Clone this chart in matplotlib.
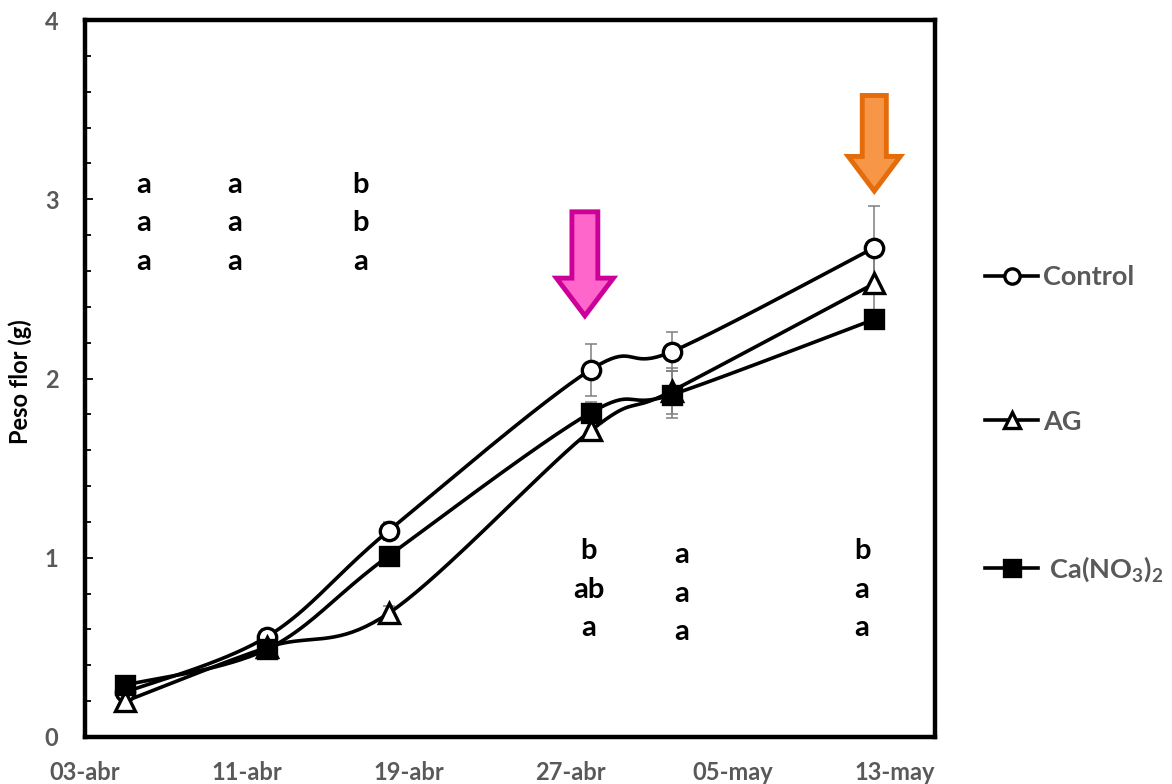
import numpy as np
import pandas as pd
import matplotlib
matplotlib.use('Agg')
import matplotlib.pyplot as plt
import matplotlib.dates as mdates
from matplotlib.lines import Line2D
from matplotlib.ticker import FixedLocator, MultipleLocator, FuncFormatter

plt.rcParams['font.family'] = ['Lato', 'DejaVu Sans']
plt.rcParams['font.weight'] = 'bold'
plt.rcParams['mathtext.fontset'] = 'custom'
plt.rcParams['mathtext.rm'] = 'Lato:bold'
plt.rcParams['mathtext.default'] = 'rm'

# datos
fechas = pd.to_datetime(['2019-04-05', '2019-04-12', '2019-04-18',
                         '2019-04-28', '2019-05-02', '2019-05-12'])
control = [0.25, 0.56, 1.15, 2.05, 2.15, 2.73]
ag = [0.20, 0.50, 0.69, 1.71, 1.93, 2.53]
calcio = [0.29, 0.49, 1.01, 1.81, 1.91, 2.33]
err_control = [0.03, 0.04, 0.05, 0.145, 0.11, 0.23]
err_ag = [0.02, 0.03, 0.04, 0.06, 0.13, 0.16]
err_calcio = [0.02, 0.03, 0.04, 0.06, 0.13, 0.05]

etiquetas = ['Control', 'AG', ' Ca(NO$_3$)$_2$']
marcadores = ['o', '^', 's']
rellenos = ['white', 'white', 'black']

# letras de significancia (arriba y abajo)
letras_arriba = [['a', 'a', 'a'], ['a', 'a', 'a'], ['b', 'b', 'a']]
letras_abajo = [['b', 'ab', 'a'], ['a', 'a', 'a'], ['b', 'a', 'a']]
pos_letras_arriba = [2.9, 7.4, 13.6]     # dias desde 03-abr
pos_letras_abajo = [24.9, 29.5, 38.4]

meses = {4: 'abr', 5: 'may'}


def suavizar(x, y, n=40):
    # curva tipo Excel (bezier con tangentes catmull-rom)
    x = np.asarray(x, float)
    y = np.asarray(y, float)
    px = np.concatenate([[x[0]], x, [x[-1]]])
    py = np.concatenate([[y[0]], y, [y[-1]]])
    xs, ys = [], []
    t = np.linspace(0, 1, n)
    for i in range(1, len(px) - 2):
        p0 = np.array([px[i], py[i]])
        p3 = np.array([px[i + 1], py[i + 1]])
        p1 = p0 + (np.array([px[i + 1], py[i + 1]]) - np.array([px[i - 1], py[i - 1]])) / 6
        p2 = p3 - (np.array([px[i + 2], py[i + 2]]) - np.array([px[i], py[i]])) / 6
        b = ((1 - t) ** 3)[:, None] * p0 + (3 * (1 - t) ** 2 * t)[:, None] * p1 \
            + (3 * (1 - t) * t ** 2)[:, None] * p2 + (t ** 3)[:, None] * p3
        xs.extend(b[:, 0])
        ys.extend(b[:, 1])
    return xs, ys


fig = plt.figure(figsize=(11.72, 7.84), dpi=100)
ax = fig.add_axes([85 / 1172, 47 / 784, 850 / 1172, 717 / 784])

xnum = mdates.date2num(fechas)
inicio = mdates.date2num(pd.Timestamp('2019-04-03'))

series = [control, ag, calcio]
errores = [err_control, err_ag, err_calcio]
for serie, err in zip(series, errores):
    ax.errorbar(xnum, serie, yerr=err, fmt='none', ecolor='#7f7f7f',
                elinewidth=1.1, capsize=4.6, capthick=1.1, zorder=2)

for serie in series:
    sx, sy = suavizar(xnum, serie)
    ax.plot(sx, sy, color='black', lw=2.6, zorder=3, solid_capstyle='round')

for serie, m, c in zip(series, marcadores, rellenos):
    ms = 14 if m == '^' else 13.2
    ax.plot(xnum, serie, ls='none', marker=m, ms=ms, mfc=c, mec='black',
            mew=2.4, zorder=4)

# flechas
ax.arrow(xnum[3] - 0.3, 2.93, 0, -0.58, width=1.28, head_width=2.81,
         head_length=0.21, length_includes_head=True, fc='#FF66CC',
         ec='#CC0099', lw=3.5, zorder=5)
ax.arrow(xnum[5], 3.579, 0, -0.533, width=1.19, head_width=2.57,
         head_length=0.193, length_includes_head=True, fc='#F79646',
         ec='#E46C0A', lw=3.5, zorder=5)

# letras
filas_arriba = [3.08, 2.87, 2.65]
filas_abajo = [1.04, 0.82, 0.61]
for xl, col in zip(pos_letras_arriba, letras_arriba):
    for yl, txt in zip(filas_arriba, col):
        ax.text(inicio + xl, yl, txt, ha='center', va='center',
                fontsize=21, fontweight='bold', color='black')
for j, (xl, col) in enumerate(zip(pos_letras_abajo, letras_abajo)):
    desplaz = -0.025 if j == 1 else 0
    for yl, txt in zip(filas_abajo, col):
        ax.text(inicio + xl, yl + desplaz, txt, ha='center', va='center',
                fontsize=21, fontweight='bold', color='black')

# ejes
ax.set_xlim(inicio, inicio + 42)
ax.set_ylim(0, 4)
ticks_x = mdates.date2num(pd.date_range('2019-04-03', periods=6, freq='8D'))
ax.xaxis.set_major_locator(FixedLocator(ticks_x))
ax.xaxis.set_major_formatter(FuncFormatter(
    lambda v, p: '{:02d}-{}'.format(mdates.num2date(v).day, meses[mdates.num2date(v).month])))
ax.yaxis.set_major_locator(MultipleLocator(1))
ax.yaxis.set_minor_locator(MultipleLocator(0.2))
ax.tick_params(axis='x', length=0, pad=17, labelsize=17, labelcolor='#595959')
ax.tick_params(axis='y', which='major', direction='in', length=5.5, width=1.3,
               pad=19, labelsize=17, labelcolor='#595959')
ax.tick_params(axis='y', which='minor', direction='in', length=4.3, width=1.3)
for lab in ax.get_xticklabels() + ax.get_yticklabels():
    lab.set_fontweight('bold')
for s in ax.spines.values():
    s.set_linewidth(3.2)
ax.set_ylabel('Peso flor (g)', fontsize=17, fontweight='bold')
ax.yaxis.set_label_coords(-0.062, 0.495)

# leyenda
manejadores = [Line2D([], [], color='black', lw=2.6, marker=m,
                      ms=11, mfc=c, mec='black', mew=2.4)
               for m, c in zip(marcadores, rellenos)]
ax.legend(manejadores, etiquetas, loc='upper left',
          bbox_to_anchor=(985 / 1172, (784 - 265) / 784),
          bbox_transform=fig.transFigure, frameon=False, labelspacing=4.45,
          handlelength=1.96, handletextpad=0.18, borderaxespad=0, borderpad=0,
          labelcolor='#595959', prop={'family': 'Lato', 'weight': 'bold', 'size': 19.5})

fig.savefig('out.png', dpi=100)
